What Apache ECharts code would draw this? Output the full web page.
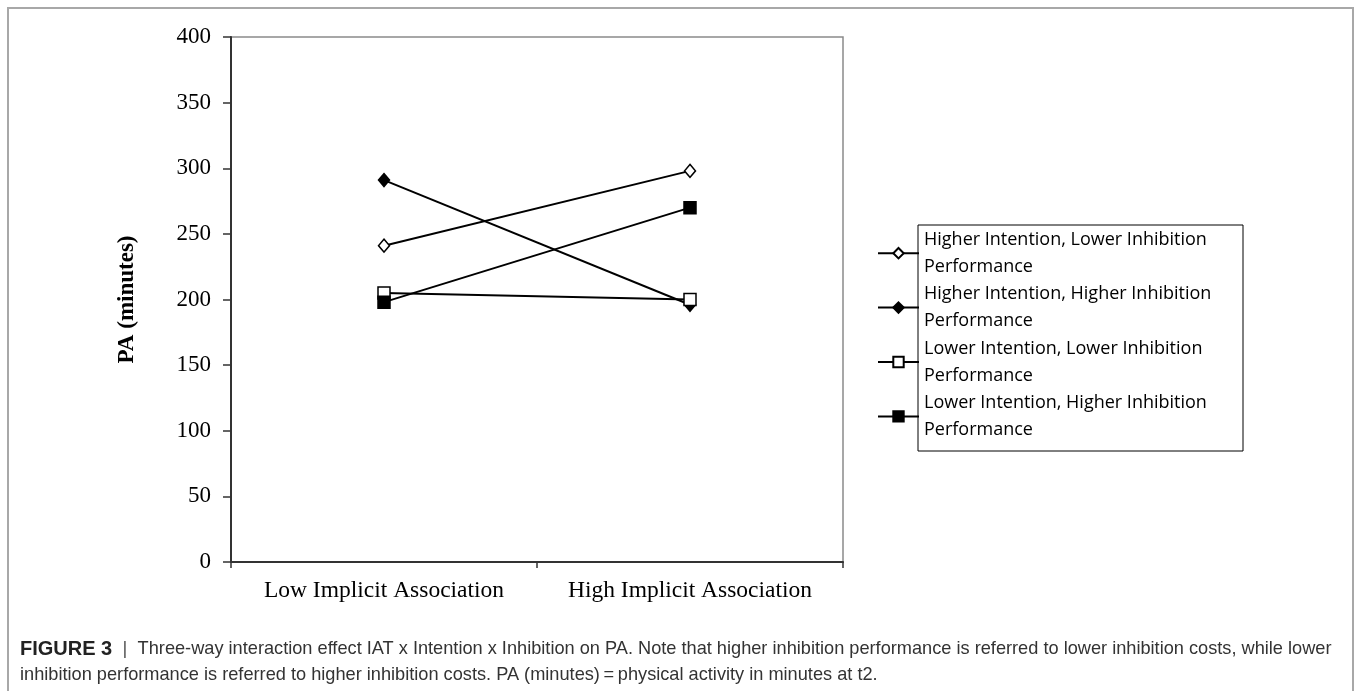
<!DOCTYPE html>
<html>
<head>
<meta charset="utf-8">
<script src="https://cdn.jsdelivr.net/npm/echarts@6/dist/echarts.min.js"></script>
<style>
html,body{margin:0;padding:0;background:#fff;}
#chart{width:1356px;height:691px;}
</style>
</head>
<body>
<div id="chart"></div>
<script>
var categories = ['Low Implicit Association', 'High Implicit Association'];
var seriesNames = [
  'Higher Intention, Lower Inhibition Performance',
  'Higher Intention, Higher Inhibition Performance',
  'Lower Intention, Lower Inhibition Performance',
  'Lower Intention, Higher Inhibition Performance'
];
var hiLowValues = [241, 298];
var hiHighValues = [291, 196];
var loLowValues = [205, 200];
var loHighValues = [198, 270];
var yTicks = [0, 50, 100, 150, 200, 250, 300, 350, 400];
var yAxisTitle = 'PA (minutes)';
var captionBold = 'FIGURE 3';
var captionLine1 = 'Three-way interaction effect IAT x Intention x Inhibition on PA. Note that higher inhibition performance is referred to lower inhibition costs, while lower';
var captionLine2 = 'inhibition performance is referred to higher inhibition costs. PA (minutes)\u2009=\u2009physical activity in minutes at t2.';

var chart = echarts.init(document.getElementById('chart'), null, {renderer: 'canvas'});

function mkSeries(name, data, symbol, filled) {
  return {
    name: name,
    type: 'line',
    data: data,
    symbol: symbol,
    symbolSize: symbol === 'diamond' ? [11, 13] : 12,
    showAllSymbol: true,
    lineStyle: {color: '#000', width: 2},
    itemStyle: {color: filled ? '#000' : '#fff', borderColor: '#000', borderWidth: 1.5},
    emphasis: {disabled: true},
    z: 3
  };
}

var option = {
  animation: false,
  backgroundColor: '#fff',
  grid: {left: 231, right: 513, top: 37, bottom: 129, show: true, borderColor: '#8a8a8a', borderWidth: 1.5, backgroundColor: 'transparent'},
  xAxis: {
    type: 'category',
    data: categories,
    boundaryGap: true,
    axisLine: {lineStyle: {color: '#333', width: 2}},
    axisTick: {show: true, inside: false, interval: 0, length: 6, lineStyle: {color: '#333', width: 1.5}},
    axisLabel: {color: '#000', fontFamily: 'Liberation Serif', fontSize: 23.5, margin: 17, interval: 0, hideOverlap: false}
  },
  yAxis: {
    type: 'value',
    min: yTicks[0],
    max: yTicks[yTicks.length - 1],
    interval: yTicks[1] - yTicks[0],
    name: yAxisTitle,
    nameLocation: 'middle',
    nameGap: 92,
    nameTextStyle: {color: '#000', fontFamily: 'Liberation Serif', fontSize: 23, fontWeight: 'bold'},
    axisLine: {show: true, lineStyle: {color: '#333', width: 2}},
    axisTick: {show: true, length: 8, lineStyle: {color: '#333', width: 1.5}},
    splitLine: {show: false},
    axisLabel: {color: '#000', fontFamily: 'Liberation Serif', fontSize: 23, margin: 20}
  },
  legend: {
    orient: 'vertical',
    left: 877,
    top: 226,
    padding: 0,
    itemGap: 0,
    itemWidth: 41,
    itemHeight: 13,
    data: seriesNames,
    formatter: function (n) { return n.replace(' Performance', '\nPerformance'); },
    textStyle: {color: '#000', fontFamily: 'Open Sans', fontSize: 18, lineHeight: 27.2},
    selectedMode: false
  },
  series: [
    mkSeries(seriesNames[0], hiLowValues, 'diamond', false),
    mkSeries(seriesNames[1], hiHighValues, 'diamond', true),
    mkSeries(seriesNames[2], loLowValues, 'rect', false),
    mkSeries(seriesNames[3], loHighValues, 'rect', true)
  ],
  graphic: [
    {type: 'rect', shape: {x: 8, y: 8, width: 1345, height: 700}, style: {fill: 'none', stroke: '#a8a8a8', lineWidth: 2}, z: 0, silent: true},
    {type: 'rect', shape: {x: 918, y: 225, width: 325, height: 226}, style: {fill: 'none', stroke: '#000', lineWidth: 1}, z: 10, silent: true},
    {type: 'text', left: 20, top: 639, style: {
      text: '{b|' + captionBold + '}{s|  |  }{t|' + captionLine1 + '}\n{t|' + captionLine2 + '}',
      rich: {
        b: {fontFamily: 'Liberation Sans', fontWeight: 'bold', fontSize: 20, fill: '#222', lineHeight: 26},
        s: {fontFamily: 'Liberation Sans', fontSize: 18.5, fill: '#555', lineHeight: 26},
        t: {fontFamily: 'Liberation Sans', fontSize: 18.2, fill: '#333', lineHeight: 26}
      }
    }, silent: true}
  ]
};
chart.setOption(option);
</script>
</body>
</html>
